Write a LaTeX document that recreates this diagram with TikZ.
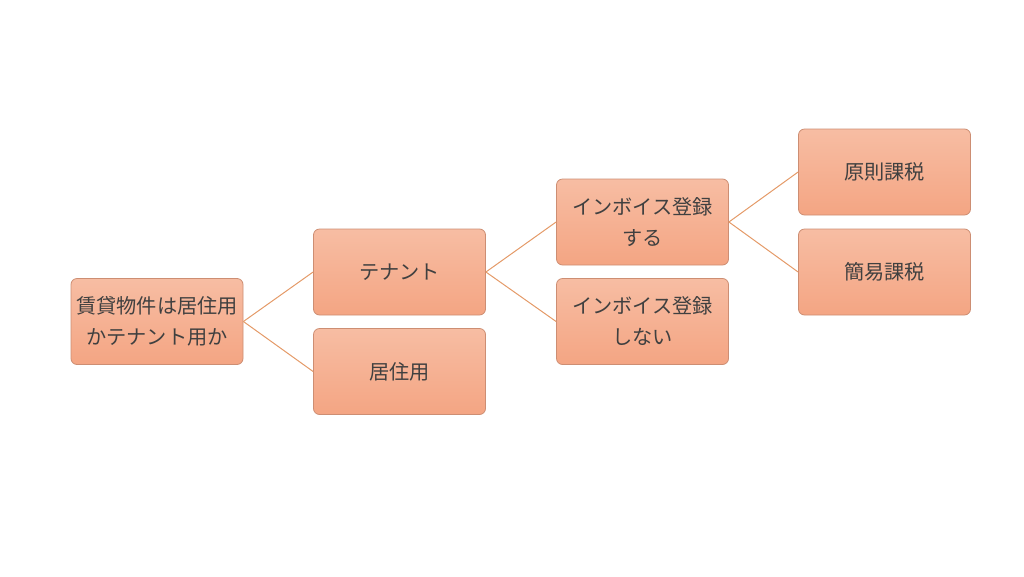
\documentclass[tikz,border=0pt]{standalone}
\usepackage{fontspec}
\newfontfamily\cjk{Noto Sans CJK JP}
\definecolor{boxtop}{HTML}{F7BDA3}
\definecolor{boxbot}{HTML}{F4A583}
\definecolor{boxline}{HTML}{CD8E73}
\definecolor{conn}{HTML}{E49A68}
\definecolor{txt}{HTML}{404040}
\begin{document}
\begin{tikzpicture}[x=1pt,y=-1pt,
  box/.style={draw=boxline, line width=0.8pt, rounded corners=6pt,
    top color=boxtop, bottom color=boxbot,
    minimum width=172pt, minimum height=86pt, inner sep=0pt,
    align=center, text=txt, font=\cjk\fontsize{20.2}{31}\selectfont},
  link/.style={draw=conn, line width=1pt}]
\useasboundingbox (0,0) rectangle (1024,576);
\node[box] (root) at (157,321.5) {賃貸物件は居住用\\かテナント用か};
\node[box] (ten) at (399.5,272) {テナント};
\node[box] (res) at (399.5,371.5) {居住用};
\node[box] (yes) at (642.5,222) {インボイス登録\\する};
\node[box] (no) at (642.5,321.5) {インボイス登録\\しない};
\node[box] (gen) at (884.5,172) {原則課税};
\node[box] (kan) at (884.5,272) {簡易課税};
\draw[link] (root.east) -- (ten.west);
\draw[link] (root.east) -- (res.west);
\draw[link] (ten.east) -- (yes.west);
\draw[link] (ten.east) -- (no.west);
\draw[link] (yes.east) -- (gen.west);
\draw[link] (yes.east) -- (kan.west);
\end{tikzpicture}
\end{document}
